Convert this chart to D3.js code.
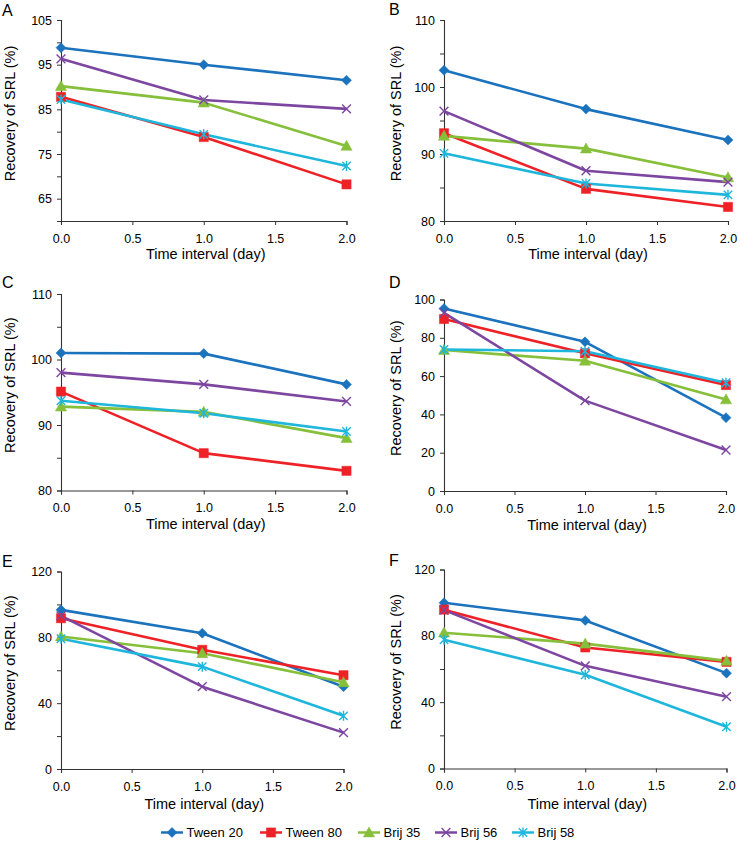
<!DOCTYPE html>
<html>
<head>
<meta charset="utf-8">
<script src="https://cdn.jsdelivr.net/npm/d3@7"></script>
<style>
  html, body { margin: 0; padding: 0; background: #fff; }
  svg { display: block; font-family: "Liberation Sans", Arial, sans-serif; }
</style>
</head>
<body>
<svg id="chart" width="740" height="841"></svg>
<script>
// ---------------- data ----------------
const days = [0, 1, 2];
const seriesNames = ["Tween 20", "Tween 80", "Brij 35", "Brij 56", "Brij 58"];
const xTicks = [0, 0.5, 1, 1.5, 2];

const panelLetters = ["A", "B", "C", "D", "E", "F"];

const valuesA = [[98.8, 95.0, 91.5], [87.8, 78.8, 68.2], [90.2, 86.5, 76.8], [96.3, 87.1, 85.1], [87.2, 79.4, 72.3]];
const valuesB = [[102.5, 96.7, 92.1], [93.1, 84.8, 82.1], [92.7, 90.8, 86.5], [96.4, 87.5, 85.8], [90.1, 85.6, 83.9]];
const valuesC = [[101.0, 100.9, 96.2], [95.1, 85.7, 83.0], [92.8, 92.0, 88.0], [98.0, 96.2, 93.6], [93.7, 91.8, 89.0]];
const valuesD = [[95.3, 77.9, 38.3], [89.8, 71.9, 55.3], [73.6, 68.0, 47.8], [93.0, 47.2, 21.4], [73.9, 73.0, 56.5]];
const valuesE = [[96.7, 82.5, 50.0], [91.6, 72.4, 57.0], [80.5, 70.3, 52.7], [93.0, 50.0, 22.1], [79.1, 62.2, 32.3]];
const valuesF = [[99.9, 89.3, 57.5], [95.8, 73.0, 64.3], [81.9, 75.3, 64.9], [95.5, 61.9, 43.3], [77.6, 56.5, 25.2]];

const yDomainA = [60, 105], yTicksA = [60, 65, 70, 75, 80, 85, 90, 95, 100, 105], yLabelsA = [65, 75, 85, 95, 105];
const yDomainB = [80, 110], yTicksB = [80, 85, 90, 95, 100, 105, 110], yLabelsB = [80, 90, 100, 110];
const yDomainC = [80, 110], yTicksC = [80, 85, 90, 95, 100, 105, 110], yLabelsC = [80, 90, 100, 110];
const yDomainD = [0, 100], yTicksD = [0, 20, 40, 60, 80, 100], yLabelsD = [0, 20, 40, 60, 80, 100];
const yDomainE = [0, 120], yTicksE = [0, 20, 40, 60, 80, 100, 120], yLabelsE = [0, 40, 80, 120];
const yDomainF = [0, 120], yTicksF = [0, 20, 40, 60, 80, 100, 120], yLabelsF = [0, 40, 80, 120];

const xTitle = "Time interval (day)";
const yTitle = "Recovery of SRL (%)";

// ---------------- layout / style ----------------
const colors = ["#1b72bd", "#ee2226", "#86bf3a", "#7d46a0", "#1fb6dc"];
const markers = ["diamond", "square", "triangle", "x", "asterisk"];

const panels = [
  { values: valuesA, dom: yDomainA, ticks: yTicksA, labels: yLabelsA, left: 61, right: 346.5, top: 20, bottom: 221, ytx: 15, xty: 258.5, letterX: 2, letterY: 16 },
  { values: valuesB, dom: yDomainB, ticks: yTicksB, labels: yLabelsB, left: 444, right: 728, top: 20, bottom: 221, ytx: 401, xty: 259, letterX: 389, letterY: 15 },
  { values: valuesC, dom: yDomainC, ticks: yTicksC, labels: yLabelsC, left: 61, right: 346.5, top: 294, bottom: 490.5, ytx: 15, xty: 529, letterX: 2, letterY: 288 },
  { values: valuesD, dom: yDomainD, ticks: yTicksD, labels: yLabelsD, left: 444, right: 726, top: 299.5, bottom: 491, ytx: 401, xty: 530, letterX: 389, letterY: 288 },
  { values: valuesE, dom: yDomainE, ticks: yTicksE, labels: yLabelsE, left: 61, right: 343.5, top: 571.5, bottom: 769, ytx: 15, xty: 809, letterX: 2, letterY: 567 },
  { values: valuesF, dom: yDomainF, ticks: yTicksF, labels: yLabelsF, left: 444, right: 726.5, top: 569.5, bottom: 768.5, ytx: 401, xty: 809, letterX: 389, letterY: 566 }
];

const svg = d3.select("#chart");
const axisColor = "#333";
const textColor = "#000";

function markerPath(type) {
  switch (type) {
    case "diamond": return "M0,-5L5,0L0,5L-5,0Z";
    case "square": return "M-4.6,-4.6H4.6V4.6H-4.6Z";
    case "triangle": return "M0,-5.6L5.6,4.4H-5.6Z";
    case "x": return "M-4.4,-4.4L4.4,4.4M-4.4,4.4L4.4,-4.4";
    case "asterisk": return "M-4.2,-4.2L4.2,4.2M-4.2,4.2L4.2,-4.2M0,-5V5";
  }
}
function drawMarker(g, type, color, x, y) {
  const stroke = (type === "x" || type === "asterisk");
  g.append("path")
    .attr("d", markerPath(type))
    .attr("transform", `translate(${x},${y})`)
    .attr("fill", stroke ? "none" : color)
    .attr("stroke", color)
    .attr("stroke-width", stroke ? 1.4 : 0.5);
}

panels.forEach((p, pi) => {
  const g = svg.append("g");
  const x = d3.scaleLinear().domain([0, 2]).range([p.left, p.right]);
  const y = d3.scaleLinear().domain(p.dom).range([p.bottom, p.top]);

  // y axis
  const yAxis = d3.axisLeft(y).tickValues(p.ticks).tickSizeOuter(0).tickSize(4).tickPadding(5)
    .tickFormat(d => p.labels.includes(d) ? d3.format("d")(d) : "");
  const yg = g.append("g").attr("transform", `translate(${p.left},0)`).call(yAxis);
  // x axis
  const xAxis = d3.axisBottom(x).tickValues(xTicks).tickSizeOuter(0).tickSize(4).tickPadding(6)
    .tickFormat(d3.format(".1f"));
  const xg = g.append("g").attr("transform", `translate(0,${p.bottom})`).call(xAxis);

  [yg, xg].forEach(a => {
    a.select(".domain").attr("stroke", axisColor).attr("stroke-width", 1.1);
    a.selectAll(".tick line").attr("stroke", axisColor).attr("stroke-width", 1);
    a.selectAll(".tick text").attr("fill", textColor).style("font-size", "12.5px")
      .style("font-family", "'Liberation Sans', Arial, sans-serif");
  });
  xg.selectAll(".tick text").attr("dy", "0.95em");

  // titles
  g.append("text")
    .attr("x", (p.left + p.right) / 2 + 2)
    .attr("y", p.xty)
    .attr("text-anchor", "middle")
    .attr("fill", textColor)
    .style("font-size", "14.5px")
    .text(xTitle);
  g.append("text")
    .attr("transform", `translate(${p.ytx},${(p.top + p.bottom) / 2 - 7}) rotate(-90)`)
    .attr("text-anchor", "middle")
    .attr("fill", textColor)
    .style("font-size", "14.5px")
    .text(yTitle);
  g.append("text")
    .attr("x", p.letterX)
    .attr("y", p.letterY)
    .attr("fill", textColor)
    .style("font-size", "16px")
    .text(panelLetters[pi]);

  // series
  const line = d3.line().x((d, i) => x(days[i])).y(d => y(d));
  p.values.forEach((vals, si) => {
    g.append("path")
      .datum(vals)
      .attr("d", line)
      .attr("fill", "none")
      .attr("stroke", colors[si])
      .attr("stroke-width", 2.6)
      .attr("stroke-linejoin", "round");
  });
  p.values.forEach((vals, si) => {
    vals.forEach((v, i) => drawMarker(g, markers[si], colors[si], x(days[i]), y(v)));
  });
});

// legend
const legendStarts = [161, 260, 358, 435, 512];
const lg = svg.append("g");
seriesNames.forEach((name, i) => {
  const x0 = legendStarts[i];
  const yc = 832.5;
  lg.append("line").attr("x1", x0).attr("x2", x0 + 22).attr("y1", yc).attr("y2", yc)
    .attr("stroke", colors[i]).attr("stroke-width", 2.5);
  drawMarker(lg, markers[i], colors[i], x0 + 11, yc);
  lg.append("text").attr("x", x0 + 25.5).attr("y", yc + 4.6)
    .attr("fill", textColor).style("font-size", "13px").text(name);
});
</script>
</body>
</html>
